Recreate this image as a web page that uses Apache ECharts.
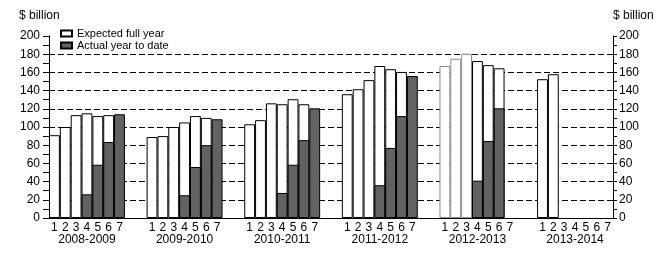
<!DOCTYPE html>
<html>
<head>
<meta charset="utf-8">
<script src="https://cdn.jsdelivr.net/npm/echarts@6/dist/echarts.min.js"></script>
<style>
html,body{margin:0;padding:0;background:#fff;}
#c{width:667px;height:257px;}
</style>
</head>
<body>
<div id="c"></div>
<script>
// ---- data ----
const years = ['2008-2009', '2009-2010', '2010-2011', '2011-2012', '2012-2013', '2013-2014'];
const slots = ['1', '2', '3', '4', '5', '6', '7'];
const expectedFullYear = [
  [91, 100, 113, 115, 112, 113, null],
  [89, 90, 100, 105, 112, 110, null],
  [103, 107.5, 126, 125, 130.5, 125, null],
  [136, 141.5, 151.5, 167, 163.5, 160.5, null],
  [167, 175, 180.5, 172.5, 168, 164.5, null],
  [152.5, 158, null, null, null, null, null]
];
const actualYearToDate = [
  [null, null, null, 26, 58.5, 83.5, 114],
  [null, null, null, 25, 56, 80, 108.5],
  [null, null, null, 27.5, 58.5, 85.5, 120.5],
  [null, null, null, 36, 77, 112, 156],
  [null, null, null, 41, 84.5, 120.5, null],
  [null, null, null, null, null, null, null]
];
const yTicks = [0, 20, 40, 60, 80, 100, 120, 140, 160, 180, 200];

// ---- build ----
const cats = [], labels = [], expData = [], actData = [];
years.forEach((yr, g) => {
  slots.forEach((s, i) => {
    cats.push(yr + '#' + s);
    labels.push(s === '4' ? s + '\n' + yr : s);
    const ev = expectedFullYear[g][i];
    if (g === 4 && i < 3 && ev != null) {
      expData.push({ value: ev, itemStyle: { borderColor: '#8c8c8c' } });
    } else {
      expData.push(ev);
    }
    actData.push(actualYearToDate[g][i]);
  });
  if (g < years.length - 1) {
    for (let k = 0; k < 2; k++) {
      cats.push(yr + '#gap' + k);
      labels.push('');
      expData.push(null);
      actData.push(null);
    }
  }
});

const font = 'Liberation Sans, Arial, sans-serif';
const gridColors = yTicks.map((v, i) => (i === 0 || i === yTicks.length - 1) ? 'rgba(0,0,0,0)' : '#000');

const chart = echarts.init(document.getElementById('c'), null, { renderer: 'canvas' });
chart.setOption({
  animation: false,
  backgroundColor: '#fff',
  textStyle: { fontFamily: font },
  grid: { left: 49, right: 54, top: 36, bottom: 39, containLabel: false, outerBoundsMode: 'none' },
  legend: {
    orient: 'vertical',
    left: 60,
    top: 28,
    icon: 'rect',
    itemWidth: 11,
    itemHeight: 6,
    itemGap: 1,
    padding: 0,
    selectedMode: false,
    textStyle: { fontSize: 11, color: '#000', fontFamily: font, lineHeight: 8, padding: [0, 0, 0, 0] },
    data: ['Expected full year', 'Actual year to date']
  },
  graphic: [
    { type: 'text', left: 19, top: 10, style: { text: '$ billion', font: '12px ' + font, fill: '#000' } },
    { type: 'text', left: 613, top: 10, style: { text: '$ billion', font: '12px ' + font, fill: '#000' } }
  ],
  xAxis: {
    type: 'category',
    data: cats,
    boundaryGap: true,
    axisLine: { show: true, lineStyle: { color: '#000', width: 1 } },
    axisTick: { show: false },
    splitLine: { show: false },
    axisLabel: {
      interval: 0,
      margin: 4,
      fontSize: 12,
      lineHeight: 12,
      color: '#000',
      fontFamily: font,
      formatter: (v, idx) => labels[idx]
    }
  },
  yAxis: [
    {
      type: 'value', min: yTicks[0], max: yTicks[yTicks.length - 1], interval: 20,
      position: 'left',
      axisLine: { show: true, lineStyle: { color: '#000', width: 1 } },
      axisTick: { show: true, length: 6, lineStyle: { color: '#000' } },
      minorTick: { show: true, splitNumber: 2, length: 6, lineStyle: { color: '#000' } },
      splitLine: { show: true, lineStyle: { color: gridColors, width: 1, type: [6, 3] } },
      axisLabel: { margin: 9, fontSize: 12, color: '#000', fontFamily: font }
    },
    {
      type: 'value', min: yTicks[0], max: yTicks[yTicks.length - 1], interval: 20,
      position: 'right',
      axisLine: { show: true, lineStyle: { color: '#000', width: 1 } },
      axisTick: { show: true, length: 4, lineStyle: { color: '#000' } },
      minorTick: { show: true, splitNumber: 2, length: 4, lineStyle: { color: '#000' } },
      splitLine: { show: false },
      axisLabel: { margin: 6, fontSize: 12, color: '#000', fontFamily: font }
    }
  ],
  series: [
    {
      name: 'Expected full year', type: 'bar', data: expData,
      barWidth: '100%', barGap: '-100%',
      itemStyle: { color: '#fff', borderColor: '#000', borderWidth: 1 }
    },
    {
      name: 'Actual year to date', type: 'bar', data: actData,
      barWidth: '100%', barGap: '-100%',
      itemStyle: { color: '#626262', borderColor: '#000', borderWidth: 1 }
    }
  ]
});
</script>
</body>
</html>
